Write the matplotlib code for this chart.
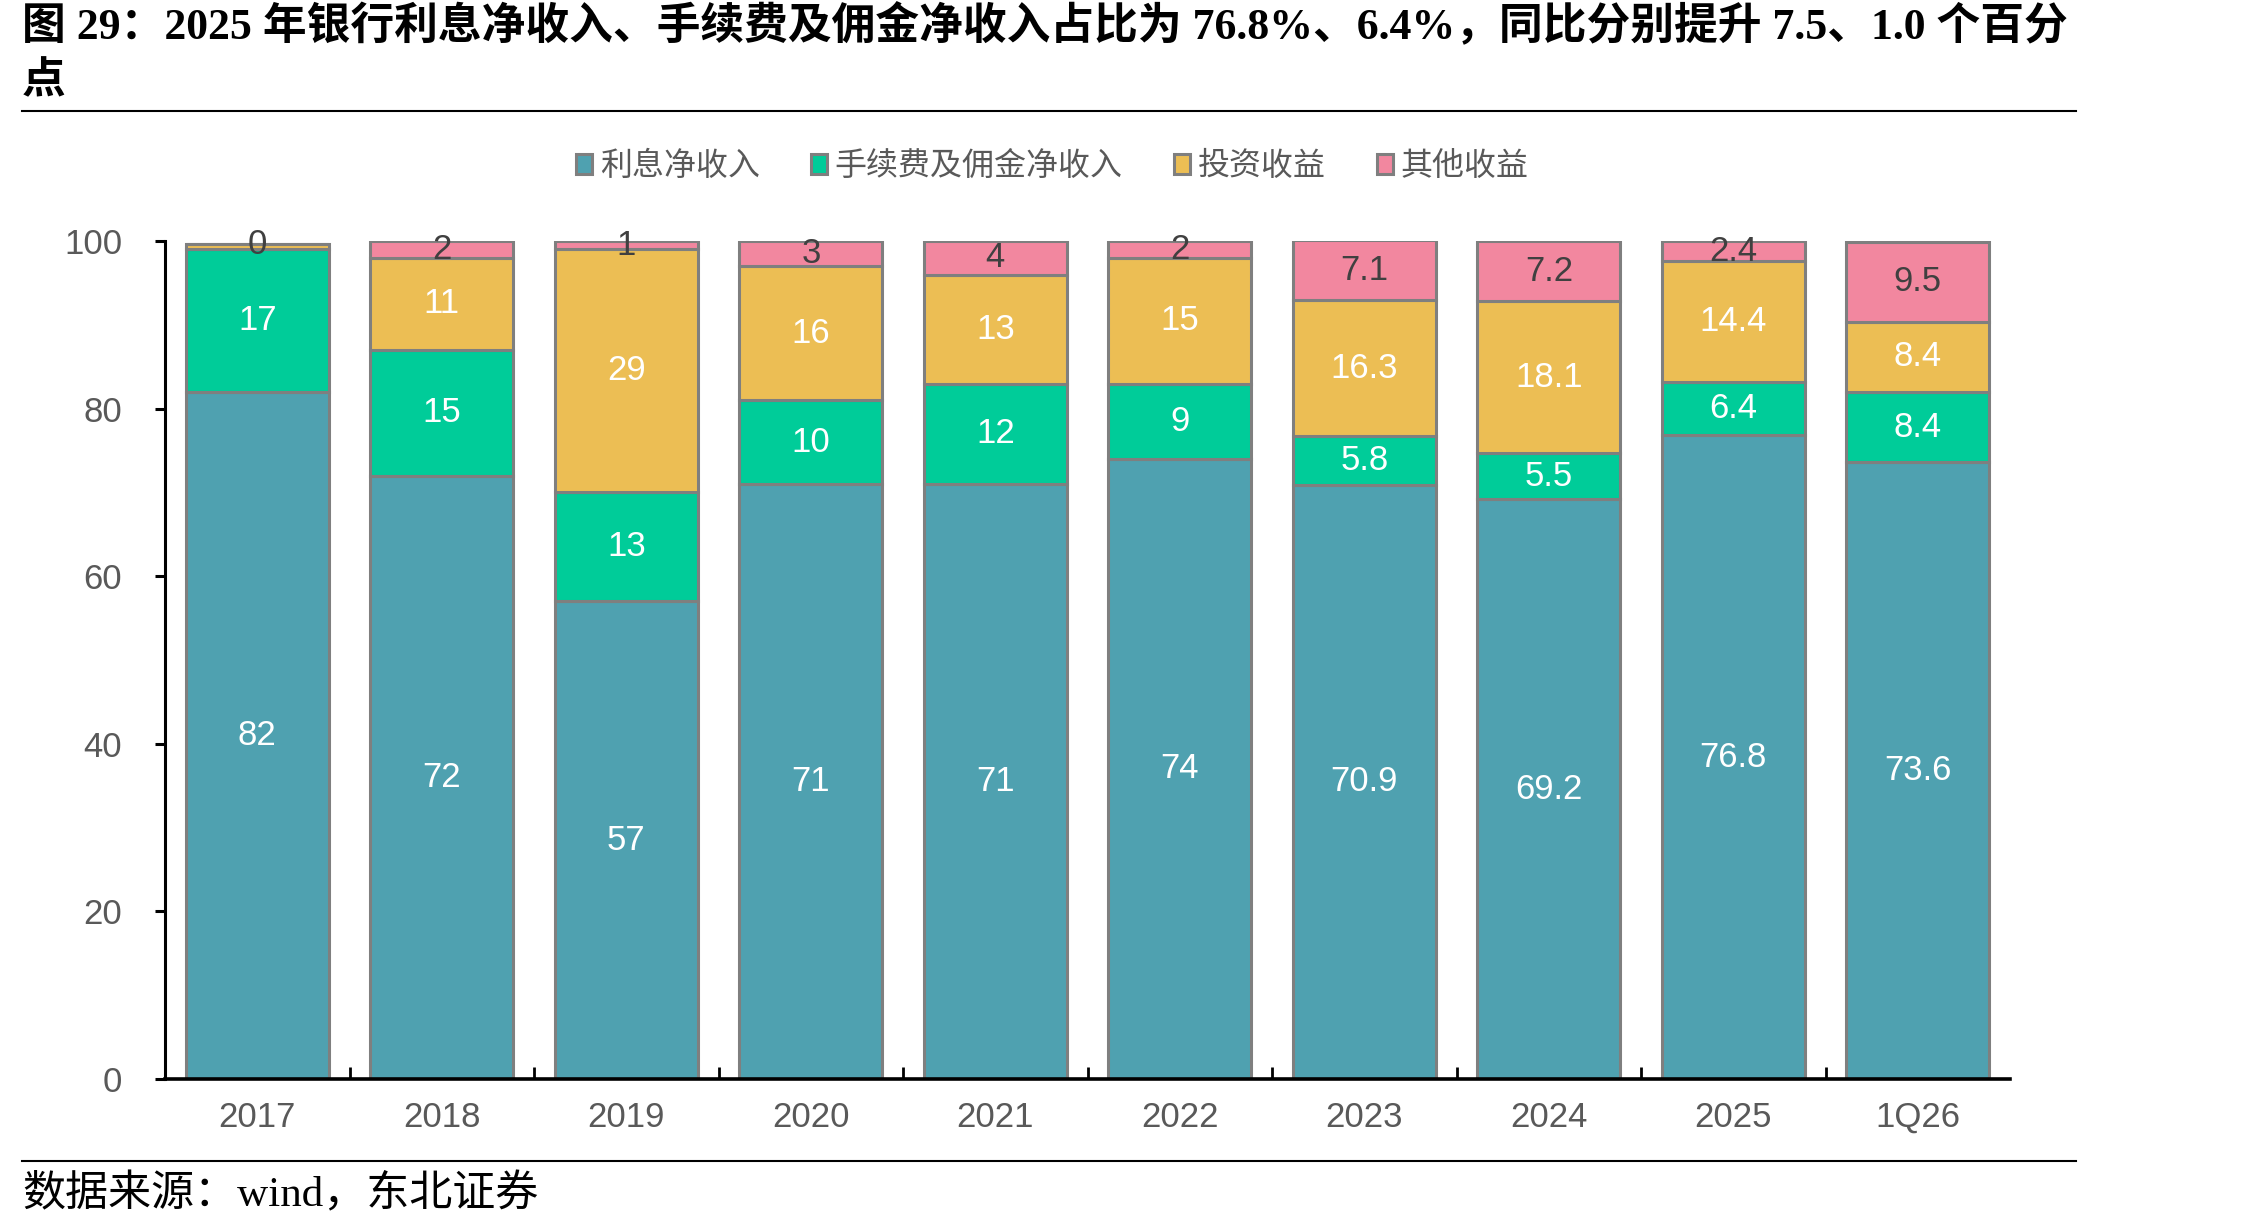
import numpy as np
import matplotlib
matplotlib.use("Agg")
import matplotlib.pyplot as plt
from matplotlib.lines import Line2D

# data
categories = ["2017", "2018", "2019", "2020", "2021", "2022", "2023", "2024", "2025", "1Q26"]
interest = [82, 72, 57, 71, 71, 74, 70.9, 69.2, 76.8, 73.6]
fees = [17, 15, 13, 10, 12, 9, 5.8, 5.5, 6.4, 8.4]
invest = [0.6, 11, 29, 16, 13, 15, 16.3, 18.1, 14.4, 8.4]
other = [0, 2, 1, 3, 4, 2, 7.1, 7.2, 2.4, 9.5]
series_names = ["利息净收入", "手续费及佣金净收入", "投资收益", "其他收益"]
colors = ["#4FA1B0", "#00CC99", "#ECBE54", "#F2879F"]
label_colors = ["white", "white", "white", "#404040"]

NUM_FONT = ["Liberation Sans", "DejaVu Sans"]
CJK_FONT = ["Noto Sans CJK SC", "DejaVu Sans"]
TITLE_FONT = ["Liberation Serif", "Noto Sans CJK SC"]

fig = plt.figure(figsize=(22.68, 12.3), dpi=100)
ax = fig.add_axes([0.0728, 0.1228, 0.8135, 0.6812])

x = np.arange(len(categories))
bottom = np.zeros(len(categories))
for vals, name, col, lc in zip([interest, fees, invest, other], series_names, colors, label_colors):
    vals = np.array(vals, dtype=float)
    bars = ax.bar(x, vals, width=0.775, bottom=bottom, color=col,
                  edgecolor="#7F7F7F", linewidth=2.2, label=name)
    labels = ["" if 0 < v < 1 else f"{v:g}" for v in vals]
    ax.bar_label(bars, labels=labels, label_type="center", color=lc,
                 fontsize=25, family=NUM_FONT)
    bottom += vals

ax.set_xlim(-0.5, len(categories) - 0.5)
ax.set_ylim(0, 100)
ax.set_yticks([0, 20, 40, 60, 80, 100])
ax.set_xticks(x)
ax.set_xticklabels(categories)
ax.set_xticks(np.arange(0.5, len(categories) - 1), minor=True)

for s in ["top", "right"]:
    ax.spines[s].set_visible(False)
ax.spines["left"].set_linewidth(2.2)
ax.spines["bottom"].set_linewidth(2.6)

ax.tick_params(axis="y", direction="out", length=7, width=2.2, pad=24,
               labelsize=25, labelcolor="#595959")
ax.tick_params(axis="x", which="major", length=0, pad=16,
               labelsize=25, labelcolor="#595959")
ax.tick_params(axis="x", which="minor", direction="in", length=9, width=2)
for lab in ax.get_xticklabels() + ax.get_yticklabels():
    lab.set_family(NUM_FONT)

# legend
handles, labels = ax.get_legend_handles_labels()
leg = fig.legend(handles, labels, loc="center", bbox_to_anchor=(0.464, 0.865),
                 ncol=4, frameon=False, handlelength=0.5, handleheight=0.6,
                 handletextpad=0.25, columnspacing=1.6,
                 prop={"family": CJK_FONT, "size": 23})
for t in leg.get_texts():
    t.set_color("#595959")

# title and source
fig.text(0.0097, 0.996,
         "图 29：2025 年银行利息净收入、手续费及佣金净收入占比为 76.8%、6.4%，同比分别提升 7.5、1.0 个百分\n点",
         ha="left", va="top", fontsize=31.5, fontweight="bold", family=TITLE_FONT,
         linespacing=1.4)
fig.add_artist(Line2D([0.0097, 0.9153], [0.9098, 0.9098], color="black", lw=1.5))
fig.add_artist(Line2D([0.0097, 0.9153], [0.0561, 0.0561], color="black", lw=1.5))
fig.text(0.0097, 0.0285, "数据来源：wind，东北证券", ha="left", va="center",
         fontsize=31, family=TITLE_FONT)

fig.savefig("out.png", dpi=100)
